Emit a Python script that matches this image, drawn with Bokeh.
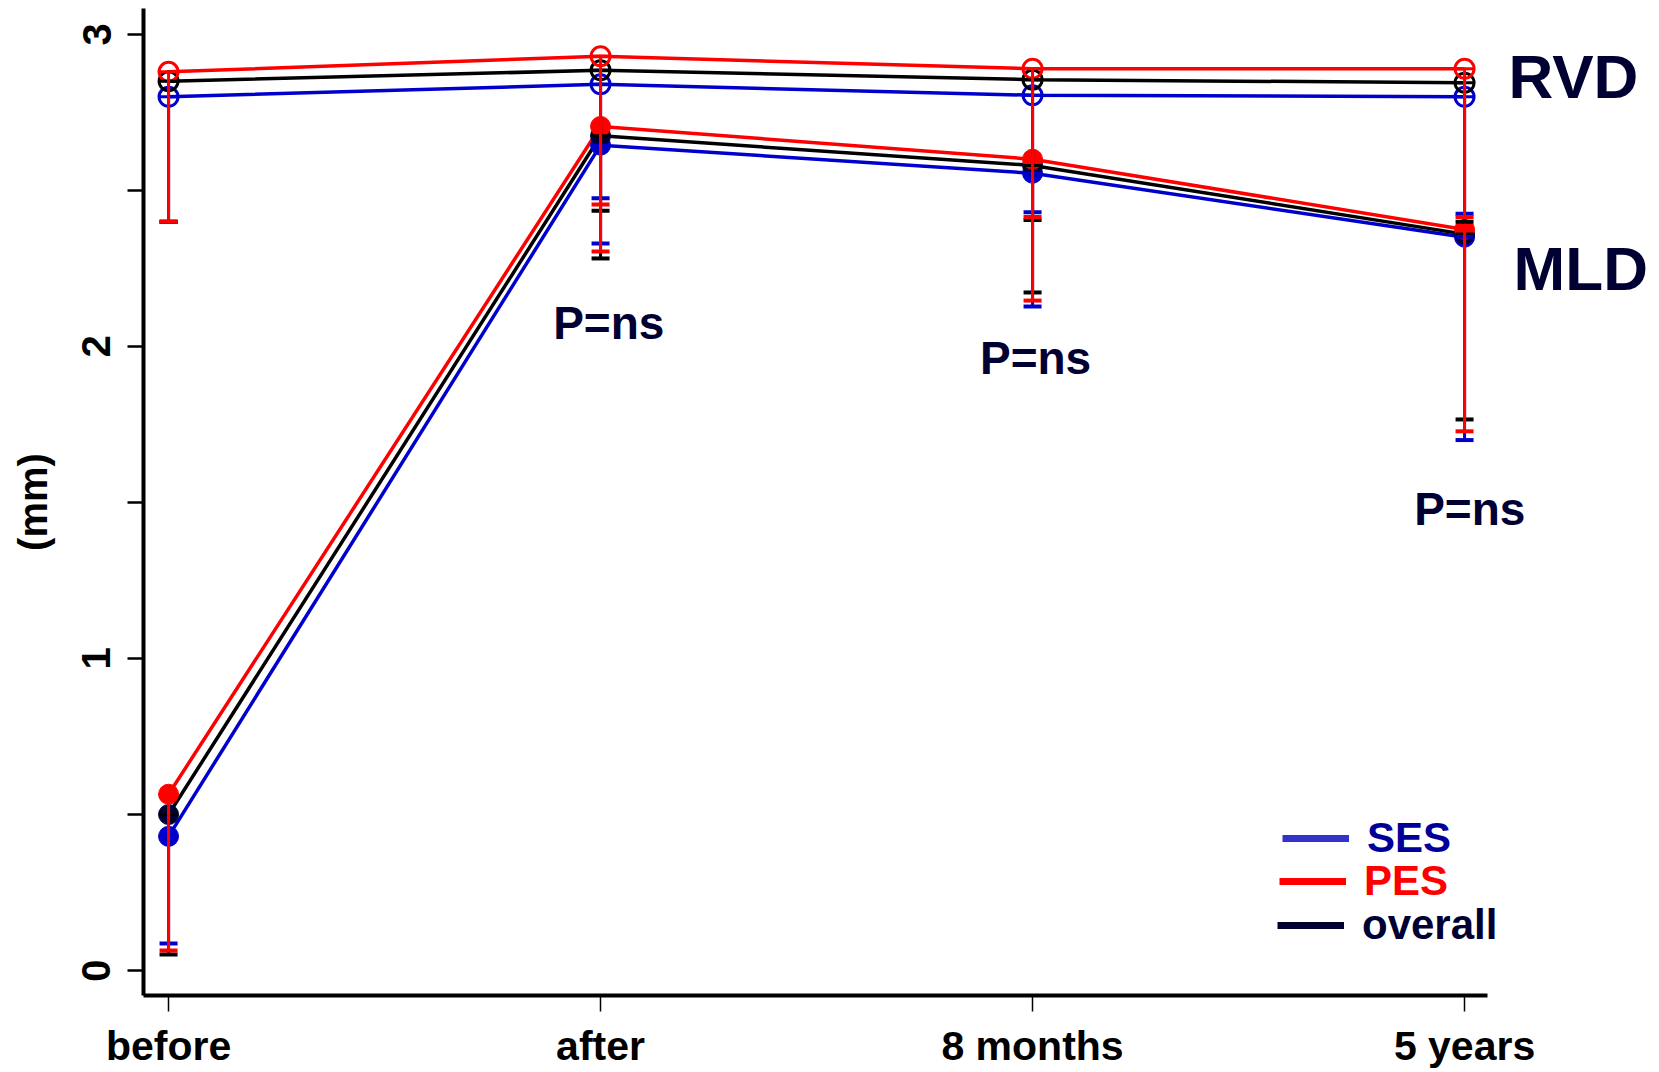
from bokeh.plotting import figure
from bokeh.models import Range1d, FixedTicker, Label, Legend, LegendItem
from bokeh.embed import file_html
from bokeh.resources import INLINE

# ---- data ----
categories = ["before", "after", "8 months", "5 years"]
xpos = [0, 1, 2, 3]

rvd_ses = [2.80, 2.84, 2.805, 2.80]
rvd_pes = [2.88, 2.93, 2.89, 2.89]
rvd_all = [2.85, 2.885, 2.855, 2.845]
rvd_ses_low = [2.40, 2.475, 2.43, 2.425]
rvd_pes_low = [2.40, 2.455, 2.415, 2.415]
rvd_all_low = [2.40, 2.435, 2.405, 2.40]

mld_ses = [0.43, 2.645, 2.555, 2.35]
mld_pes = [0.565, 2.705, 2.60, 2.375]
mld_all = [0.50, 2.675, 2.58, 2.36]
mld_ses_low = [0.087, 2.33, 2.128, 1.70]
mld_pes_low = [0.064, 2.304, 2.147, 1.728]
mld_all_low = [0.051, 2.282, 2.173, 1.766]

y_ticks = [0, 1, 2, 3]
y_minor = [0.5, 1.5, 2.5]

FONT = "Liberation Sans"
BLUE = "#0000cc"
RED = "#ff0000"
BLACK = "#000000"
NAVY = "#000033"
NAN = float("nan")

X0, X1 = -0.058, 3.053   # extent of the drawn x axis

p = figure(width=1659, height=1072,
           x_range=Range1d(X0, 3.442), y_range=Range1d(-0.08, 3.083),
           output_backend="svg", toolbar_location=None,
           min_border_left=143, min_border_right=4,
           min_border_top=8, min_border_bottom=77)
p.outline_line_color = None
p.xgrid.visible = False
p.ygrid.visible = False
p.background_fill_color = "white"
p.border_fill_color = "white"

# y axis
ya = p.yaxis[0]
ya.ticker = FixedTicker(ticks=y_ticks, minor_ticks=y_minor)
ya.axis_line_width = 4
ya.major_tick_out = 16
ya.major_tick_in = 0
ya.minor_tick_out = 16
ya.minor_tick_in = 0
ya.major_tick_line_width = 2.5
ya.minor_tick_line_width = 2.5
ya.major_label_orientation = "vertical"
ya.major_label_text_font = FONT
ya.major_label_text_font_size = "40px"
ya.major_label_text_font_style = "bold"
ya.major_label_text_color = "black"
ya.major_label_standoff = 17
ya.axis_label = "(mm)"
ya.axis_label_text_font = FONT
ya.axis_label_text_font_size = "40px"
ya.axis_label_text_font_style = "bold"
ya.axis_label_text_color = "black"
ya.axis_label_standoff = 25

# x axis (line limited to the original axis extent)
xa = p.xaxis[0]
xa.bounds = (X0, X1)
xa.ticker = FixedTicker(ticks=xpos)
xa.major_label_overrides = {i: c for i, c in zip(xpos, categories)}
xa.axis_line_width = 4
xa.major_tick_out = 16
xa.major_tick_in = 0
xa.major_tick_line_width = 1.5
xa.minor_tick_line_color = None
xa.major_label_text_font = FONT
xa.major_label_text_font_size = "41px"
xa.major_label_text_font_style = "bold"
xa.major_label_text_color = "black"
xa.major_label_standoff = 11

# lines
for ys, c in [(rvd_ses, BLUE), (rvd_all, BLACK), (rvd_pes, RED),
              (mld_ses, BLUE), (mld_all, BLACK), (mld_pes, RED)]:
    p.line(xpos, ys, line_color=c, line_width=3.5)

# markers
for ys, c in [(rvd_ses, BLUE), (rvd_all, BLACK), (rvd_pes, RED)]:
    p.scatter(xpos, ys, marker="circle", size=19, fill_color=None,
              line_color=c, line_width=3)
for ys, c in [(mld_ses, BLUE), (mld_all, NAVY), (mld_pes, RED)]:
    p.scatter(xpos, ys, marker="circle", size=20, fill_color=c,
              line_color=c, line_width=1)

# error bars (mean down to mean - SD)
for m, lo, c in [(rvd_ses, rvd_ses_low, BLUE), (mld_ses, mld_ses_low, BLUE),
                 (rvd_all, rvd_all_low, BLACK), (mld_all, mld_all_low, BLACK),
                 (rvd_pes, rvd_pes_low, RED), (mld_pes, mld_pes_low, RED)]:
    p.segment(x0=xpos, y0=m, x1=xpos, y1=lo, line_color=c, line_width=3)
    p.scatter(xpos, lo, marker="dash", size=18, line_color=c, line_width=4)
    p.scatter(xpos, m, marker="dash", size=18, line_color=c, line_width=3)

# annotations
for xx, yy in [(1.019, 2.074), (2.007, 1.962), (3.012, 1.48)]:
    p.add_layout(Label(x=xx, y=yy, text="P=ns", text_align="center",
                       text_baseline="middle", text_font=FONT,
                       text_font_size="46px", text_font_style="bold",
                       text_color=NAVY))
p.add_layout(Label(x=3.252, y=2.865, text="RVD", text_align="center",
                   text_baseline="middle", text_font=FONT,
                   text_font_size="62px", text_font_style="bold",
                   text_color=NAVY))
p.add_layout(Label(x=3.269, y=2.25, text="MLD", text_align="center",
                   text_baseline="middle", text_font=FONT,
                   text_font_size="62px", text_font_style="bold",
                   text_color=NAVY))

# legend (three one-item legends, each with its own text colour)
for name, lc, tc, loc in [("SES", "#3333cc", "#000099", (1139, 133)),
                          ("PES", RED, RED, (1136, 90)),
                          ("overall", NAVY, NAVY, (1134, 46))]:
    r = p.line(x=[NAN, NAN], y=[NAN, NAN], line_color=lc, line_width=7)
    leg = Legend(items=[LegendItem(label=name, renderers=[r])], location=loc,
                 padding=0, margin=0, spacing=0, glyph_width=67, glyph_height=20,
                 label_standoff=18, label_text_font=FONT,
                 label_text_font_size="42px", label_text_font_style="bold",
                 label_text_color=tc, background_fill_alpha=0,
                 border_line_alpha=0)
    p.add_layout(leg)

open("out.html", "w").write(file_html(p, INLINE))
